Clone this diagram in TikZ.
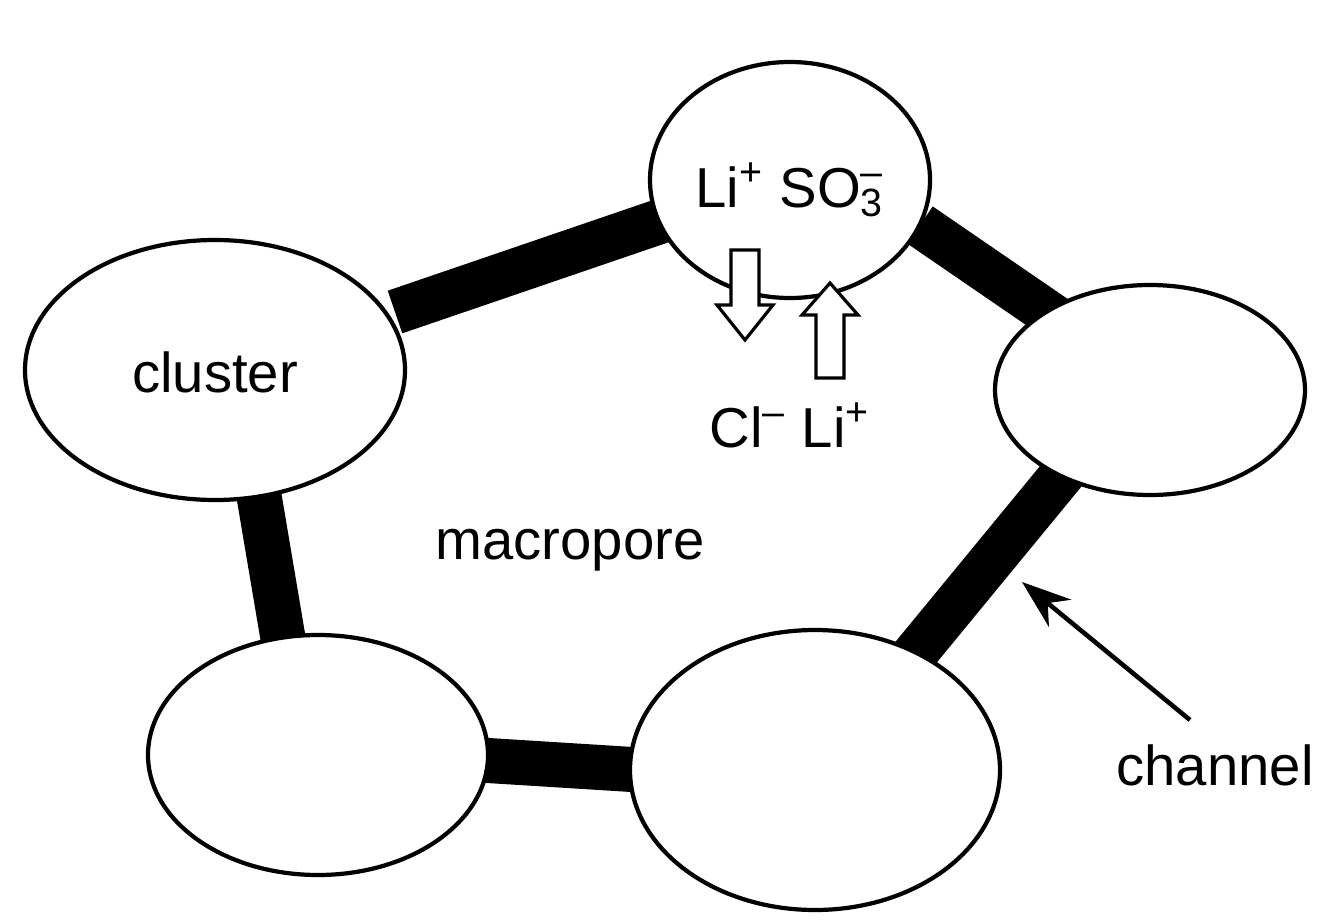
\documentclass[tikz,border=0pt]{standalone}
\usepackage{fontspec}
\setmainfont{Liberation Sans}
\usetikzlibrary{arrows.meta}
\begin{document}
\begin{tikzpicture}[x=0.01cm,y=-0.01cm,
  chan/.style={line width=0.45cm},
  lbl/.style={font=\fontsize{16}{18}\selectfont}]
\useasboundingbox (0,0) rectangle (1339,924);
\coordinate (t) at (790,180);
\coordinate (c) at (215,370);
\coordinate (r) at (1150,390);
\coordinate (bl) at (318,755);
\coordinate (br) at (815,770);
\draw[chan] (395,312) -- (670,218);
\draw[chan] (920,225) -- (1095,345);
\draw[chan] (1070,465) -- (885,690);
\draw[chan] (258,490) -- (285,650);
\draw[chan] (480,760) -- (640,770);
\draw[line width=1.2pt,fill=white] (t) ellipse [x radius=140,y radius=118];
\draw[line width=1.2pt,fill=white] (c) ellipse [x radius=190,y radius=130];
\draw[line width=1.2pt,fill=white] (r) ellipse [x radius=155,y radius=105];
\draw[line width=1.2pt,fill=white] (bl) ellipse [x radius=170,y radius=120];
\draw[line width=1.2pt,fill=white] (br) ellipse [x radius=185,y radius=140];
\node[lbl] (tl) at (790,190) {Li\textsuperscript{+} SO\rlap{\textsubscript{3}}\textsuperscript{–}};
\node[lbl] (cl) at (215,372) {cluster};
\node[lbl] (mp) at (570,550) {macropore};
\node[lbl] (ions) at (790,425) {Cl\textsuperscript{–} Li\textsuperscript{+}};
\node[lbl] (ch) at (1215,765) {channel};
\draw[line width=0.9pt,fill=white] (731,250) -- (759,250) -- (759,305) -- (773,305) -- (745,340) -- (717,305) -- (731,305) -- cycle;
\draw[line width=0.9pt,fill=white] (816,378) -- (844,378) -- (844,315) -- (858,315) -- (830,283) -- (802,315) -- (816,315) -- cycle;
\coordinate (chs) at (1190,720);
\coordinate (che) at (1022,582);
\draw[line width=1.3pt,-{Stealth[length=14pt,width=10pt]}] (chs) -- (che);
\end{tikzpicture}
\end{document}
